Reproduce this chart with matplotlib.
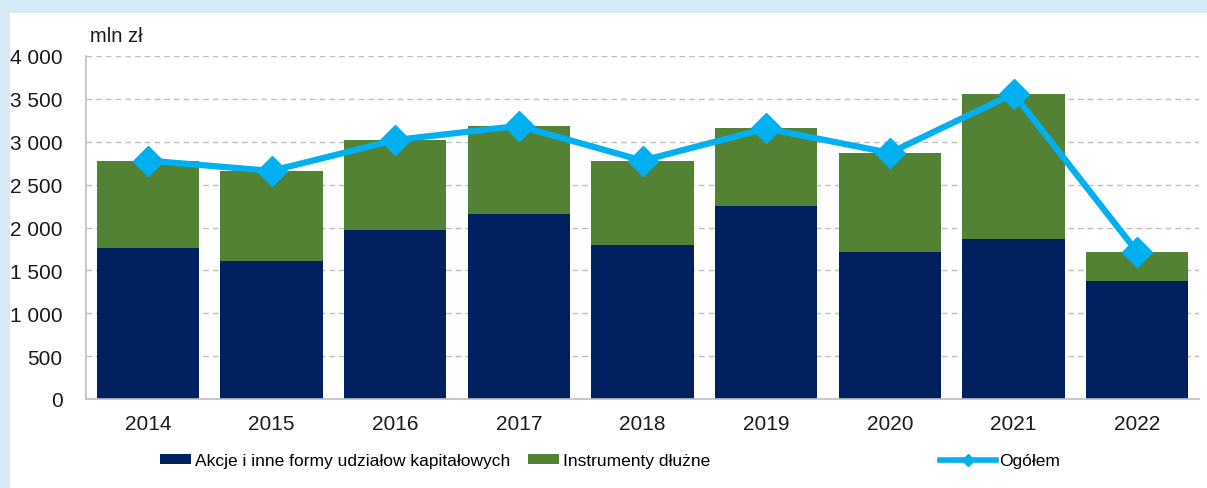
import matplotlib.pyplot as plt
from matplotlib.lines import Line2D
from matplotlib.patches import Patch, Rectangle
from matplotlib.ticker import FuncFormatter
import numpy as np

lata = ['2014', '2015', '2016', '2017', '2018', '2019', '2020', '2021', '2022']
akcje = [1760, 1615, 1970, 2155, 1795, 2255, 1720, 1870, 1375]
dluzne = [1020, 1045, 1050, 1030, 985, 900, 1150, 1690, 340]
ogolem = [2780, 2660, 3020, 3185, 2780, 3155, 2870, 3560, 1715]

NAVY = '#002060'
GREEN = '#548235'
CYAN = '#00B0F0'
GRID = '#BFBFBF'

plt.rcParams['font.family'] = ['Liberation Sans', 'DejaVu Sans']

fig = plt.figure(figsize=(12.07, 4.89), dpi=100)
fig.patch.set_facecolor('#D6EAF5')
# white panel inside the light blue frame
fig.patches.append(Rectangle((10 / 1207, 0), 1, 1 - 14 / 489, transform=fig.transFigure,
                             facecolor='white', edgecolor='none', zorder=-10))

ax = fig.add_axes([86 / 1207, 89 / 489, 1113 / 1207, 343 / 489])
ax.set_facecolor('none')

x = np.arange(len(lata))
ax.bar(x, akcje, width=0.825, color=NAVY, zorder=2)
ax.bar(x, dluzne, width=0.825, bottom=akcje, color=GREEN, zorder=2)
ax.plot(x, ogolem, color=CYAN, lw=4.5, marker='D', markersize=15, zorder=3)

ax.set_xlim(-0.5, len(lata) - 0.5)
ax.set_ylim(0, 4000)
ax.set_yticks(range(0, 4001, 500))
ax.yaxis.set_major_formatter(FuncFormatter(lambda v, p: f'{int(v):,}'.replace(',', ' ')))
ax.set_xticks(x)
ax.set_xticklabels(lata)
ax.tick_params(axis='y', length=0, pad=17, labelsize=15, labelcolor='#1a1a1a')
ax.tick_params(axis='x', length=0, pad=11, labelsize=15, labelcolor='#1a1a1a')

ax.yaxis.grid(True, color=GRID, linestyle=(0, (4, 3)), lw=1)
ax.set_axisbelow(True)
for s in ['top', 'right']:
    ax.spines[s].set_visible(False)
for s in ['left', 'bottom']:
    ax.spines[s].set_color(GRID)
    ax.spines[s].set_linewidth(1.2)

fig.text(90 / 1207, 1 - 37 / 489, 'mln zł', fontsize=14.5, color='#1a1a1a', va='center', ha='left')

# legend: three entries placed like the Excel original
entries = [
    (Patch(facecolor=NAVY), 'Akcje i inne formy udziałow kapitałowych', 160, 1.8),
    (Patch(facecolor=GREEN), 'Instrumenty dłużne', 528, 1.8),
    (Line2D([], [], color=CYAN, lw=4, marker='D', markersize=6), 'Ogółem', 940, 3.2),
]
for h, lab, xpos, hl in entries:
    fig.legend([h], [lab], loc='center left', bbox_to_anchor=(xpos / 1207, 1 - 462 / 489),
               frameon=False, borderpad=0, borderaxespad=0, handlelength=hl, handleheight=0.5,
               handletextpad=0.2, prop={'size': 12.5})

fig.savefig('out.png', dpi=100, facecolor=fig.get_facecolor())
